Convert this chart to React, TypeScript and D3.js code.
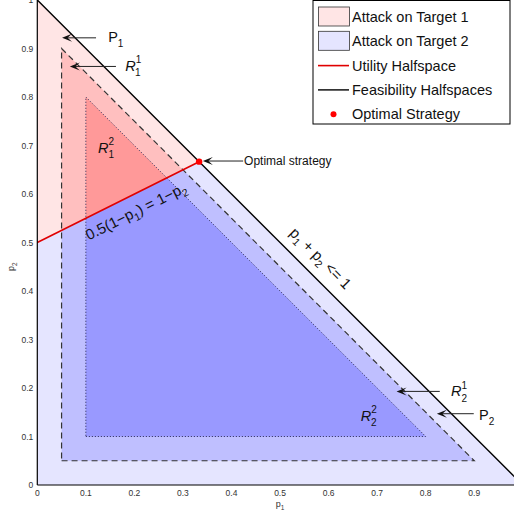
import * as d3 from "d3";

// ---- data ----
const regionNames = ["P", "R1", "R2"];
const regionMargins = [0, 0.05, 0.1]; // p1 >= m, p2 >= m, p1 + p2 <= 1 - m
const utilityP1 = [0, 1 / 3];
const utilityP2 = [0.5, 2 / 3];
const optimalStrategy = [1 / 3, 2 / 3];
const xTicks = [0, 0.1, 0.2, 0.3, 0.4, 0.5, 0.6, 0.7, 0.8, 0.9, 1];
const yTicks = [0, 0.1, 0.2, 0.3, 0.4, 0.5, 0.6, 0.7, 0.8, 0.9, 1];
const legendLabels = [
  "Attack on Target 1",
  "Attack on Target 2",
  "Utility Halfspace",
  "Feasibility Halfspaces",
  "Optimal Strategy",
];

// ---- styles ----
const redFills = ["#ffe5e5", "#ffbfbf", "#ff9999"];
const blueFills = ["#e5e5ff", "#bfbfff", "#9999ff"];
const FONT = "'Liberation Sans', Arial, Helvetica, sans-serif";
const W = 514;

const x = d3.scaleLinear().domain([0, 1]).range([37.3, 522.8]);
const y = d3.scaleLinear().domain([0, 1]).range([485, 0]);

const poly = (pts: number[][]) =>
  pts.map(([a, b]) => `${x(a)},${y(b)}`).join(" ");

const triangle = (m: number) => [
  [m, m],
  [1 - 2 * m, m],
  [m, 1 - 2 * m],
];

// utility halfspace: p2 >= 0.5 + 0.5 p1
const above = [
  [0, utilityP2[0]],
  [1.2, utilityP2[0] + 0.6],
  [1.2, 1.2],
  [0, 1.2],
];
const below = [
  [0, -0.2],
  [1.2, -0.2],
  [1.2, utilityP2[0] + 0.6],
  [0, utilityP2[0]],
];

function Arrow({ from, to }: { from: number[]; to: number[] }) {
  const x1 = x(from[0]),
    y1 = y(from[1]),
    x2 = x(to[0]),
    y2 = y(to[1]);
  const ang = Math.atan2(y2 - y1, x2 - x1);
  const L = 10,
    H = 4;
  const pt = (dx: number, dy: number) =>
    `${x2 + dx * Math.cos(ang) - dy * Math.sin(ang)},${y2 + dx * Math.sin(ang) + dy * Math.cos(ang)}`;
  return (
    <g>
      <line x1={x1} y1={y1} x2={x2 - Math.cos(ang) * 5} y2={y2 - Math.sin(ang) * 5} stroke="#222" strokeWidth={1} />
      <polygon points={[pt(0, 0), pt(-L, -H), pt(-L * 0.55, 0), pt(-L, H)].join(" ")} fill="#111" />
    </g>
  );
}

function SubSup({ px, py, base, sub, sup, italic }: { px: number; py: number; base: string; sub: string; sup?: string; italic?: boolean }) {
  return (
    <text x={x(px)} y={y(py)} fontSize={14.5} fontFamily={FONT} fill="#111">
      <tspan fontStyle={italic ? "italic" : "normal"}>{base}</tspan>
      {sup ? (
        <>
          <tspan fontSize={10} dy={-7.5}>{sup}</tspan>
          <tspan fontSize={10} dx={-5.6} dy={13}>{sub}</tspan>
        </>
      ) : (
        <tspan fontSize={10} dy={5}>{sub}</tspan>
      )}
    </text>
  );
}

export default function App() {
  const lineAngle =
    (Math.atan2(y(utilityP2[1]) - y(utilityP2[0]), x(utilityP1[1]) - x(utilityP1[0])) * 180) / Math.PI;
  const diagAngle = (Math.atan2(y(0) - y(1), x(1) - x(0)) * 180) / Math.PI;
  const legendX = 313,
    legendY = 0.5,
    rowH = 24.3;

  return (
    <div style={{ position: "absolute", left: 0, top: 0 }}>
      <svg width={W} height={514} viewBox="0 0 514 514" style={{ display: "block", background: "#fff" }}>
        <defs>
          <clipPath id="clipAbove">
            <polygon points={poly(above)} />
          </clipPath>
          <clipPath id="clipBelow">
            <polygon points={poly(below)} />
          </clipPath>
        </defs>

        {/* region fills */}
        <g clipPath="url(#clipBelow)">
          {regionMargins.map((m, i) => (
            <polygon key={regionNames[i]} points={poly(triangle(m))} fill={blueFills[i]} />
          ))}
        </g>
        <g clipPath="url(#clipAbove)">
          {regionMargins.map((m, i) => (
            <polygon key={regionNames[i]} points={poly(triangle(m))} fill={redFills[i]} />
          ))}
        </g>

        {/* region outlines */}
        <polygon points={poly(triangle(regionMargins[2]))} fill="none" stroke="#2a2a55" strokeWidth={1} strokeDasharray="1,2" />
        <polygon points={poly(triangle(regionMargins[1]))} fill="none" stroke="#333" strokeWidth={1.2} strokeDasharray="6,4" />
        <line x1={x(0)} y1={y(1)} x2={x(1)} y2={y(0)} stroke="#000" strokeWidth={1.4} />

        {/* utility halfspace */}
        <line
          x1={x(utilityP1[0])}
          y1={y(utilityP2[0])}
          x2={x(utilityP1[1])}
          y2={y(utilityP2[1])}
          stroke="#e00000"
          strokeWidth={1.6}
        />

        {/* axes */}
        <line x1={x(0)} y1={y(0)} x2={x(1)} y2={y(0)} stroke="#000" strokeWidth={1.2} />
        <line x1={x(0)} y1={y(0)} x2={x(0)} y2={y(1.05)} stroke="#000" strokeWidth={1.2} />
        {xTicks
          .filter((t) => x(t) + 6 < W)
          .map((t) => (
            <text key={"x" + t} x={x(t)} y={y(0) + 11} fontSize={8.5} fontFamily={FONT} fill="#333" textAnchor="middle">
              {d3.format("~g")(t)}
            </text>
          ))}
        {yTicks.map((t) => (
          <text key={"y" + t} x={x(0) - 4} y={y(t) + 3} fontSize={8.5} fontFamily={FONT} fill="#333" textAnchor="end">
            {d3.format("~g")(t)}
          </text>
        ))}
        <text x={x(0.5)} y={507} fontSize={9} fontFamily={FONT} fill="#333" textAnchor="middle">
          p<tspan fontSize={6.5} dy={2.5}>1</tspan>
        </text>
        <text transform={`translate(14,${y(0.45)}) rotate(-90)`} fontSize={9} fontFamily={FONT} fill="#333" textAnchor="middle">
          p<tspan fontSize={6.5} dy={2.5}>2</tspan>
        </text>

        {/* optimal point */}
        <circle cx={x(optimalStrategy[0])} cy={y(optimalStrategy[1])} r={3.2} fill="#ff0000" />

        {/* annotations */}
        <Arrow from={[0.121, 0.922]} to={[0.051, 0.922]} />
        <Arrow from={[0.162, 0.863]} to={[0.067, 0.863]} />
        <Arrow from={[0.424, 0.668]} to={[0.341, 0.668]} />
        <Arrow from={[0.829, 0.193]} to={[0.74, 0.193]} />
        <Arrow from={[0.899, 0.147]} to={[0.823, 0.147]} />

        <SubSup px={0.146} py={0.913} base="P" sub="1" />
        <SubSup px={0.181} py={0.854} base="R" sup="1" sub="1" italic />
        <SubSup px={0.125} py={0.685} base="R" sup="2" sub="1" italic />
        <SubSup px={0.852} py={0.1835} base="R" sup="1" sub="2" italic />
        <SubSup px={0.91} py={0.134} base="P" sub="2" />
        <SubSup px={0.666} py={0.132} base="R" sup="2" sub="2" italic />

        <text x={x(0.426)} y={y(0.66)} fontSize={12} fontFamily={FONT} fill="#111">
          Optimal strategy
        </text>

        <text transform={`translate(${x(0.106)},${y(0.504)}) rotate(${lineAngle})`} fontSize={15} fontFamily={FONT} fill="#111">
          0.5(1−p<tspan fontSize={10.5} dy={4}>1</tspan>
          <tspan dy={-4}>) = 1−p</tspan>
          <tspan fontSize={10.5} dy={4}>2</tspan>
        </text>

        <text transform={`translate(${x(0.518)},${y(0.518)}) rotate(${diagAngle})`} fontSize={15} fontFamily={FONT} fill="#111">
          p<tspan fontSize={10.5} dy={4}>1</tspan>
          <tspan dy={-4}> + p</tspan>
          <tspan fontSize={10.5} dy={4}>2</tspan>
          <tspan dy={-4}> {"<="} 1</tspan>
        </text>

        {/* legend */}
        <g fontFamily={FONT} fontSize={14.5} fill="#111">
          <rect x={legendX} y={legendY} width={197} height={123.5} fill="#fff" stroke="#000" strokeWidth={1} />
          {legendLabels.map((lab, i) => {
            const cy = 17 + i * rowH;
            return (
              <g key={lab}>
                {i < 2 && (
                  <rect x={318.5} y={cy - 10} width={31} height={19} fill={i === 0 ? redFills[0] : blueFills[0]} stroke="#333" strokeWidth={0.8} />
                )}
                {i === 2 && <line x1={318} x2={349} y1={cy} y2={cy} stroke="#e00000" strokeWidth={1.6} />}
                {i === 3 && <line x1={318} x2={349} y1={cy} y2={cy} stroke="#000" strokeWidth={1.4} />}
                {i === 4 && <circle cx={333.5} cy={cy} r={3} fill="#ff0000" />}
                <text x={352} y={cy + 5}>
                  {lab}
                </text>
              </g>
            );
          })}
        </g>
      </svg>
    </div>
  );
}
